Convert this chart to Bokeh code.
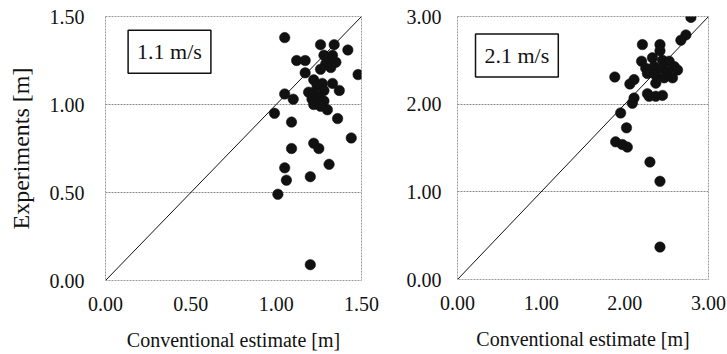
from bokeh.plotting import figure
from bokeh.layouts import row
from bokeh.models import Range1d, FixedTicker, CustomJSTickFormatter, Label
from bokeh.embed import file_html
from bokeh.resources import INLINE

# Panel 1: 1.1 m/s
x1 = [1.05, 1.26, 1.34, 1.42, 1.12, 1.17, 1.28, 1.33, 1.35, 1.29, 1.31, 1.26, 1.32,
      1.17, 1.48, 1.22, 1.27, 1.33, 1.24, 1.37, 1.19, 1.05, 1.10, 1.22, 1.28, 1.21,
      1.25, 1.28, 1.22, 1.26, 1.30, 0.99, 1.09, 1.36, 1.44, 1.22, 1.25, 1.09, 1.31,
      1.05, 1.20, 1.06, 1.01, 1.20]
y1 = [1.38, 1.34, 1.34, 1.31, 1.25, 1.25, 1.28, 1.28, 1.24, 1.23, 1.26, 1.20, 1.21,
      1.18, 1.17, 1.14, 1.12, 1.12, 1.11, 1.08, 1.07, 1.06, 1.03, 1.07, 1.08, 1.03,
      1.04, 1.02, 1.00, 0.99, 0.97, 0.95, 0.90, 0.92, 0.81, 0.78, 0.75, 0.75, 0.66,
      0.64, 0.59, 0.57, 0.49, 0.09]

# Panel 2: 2.1 m/s
x2 = [2.79, 2.73, 2.67, 2.21, 2.42, 2.42, 2.33, 2.20, 2.45, 2.53, 2.59, 2.63, 2.25,
      2.35, 2.45, 2.27, 2.37, 2.51, 2.47, 2.37, 2.57, 1.88, 2.11, 2.06, 2.27, 2.29,
      2.37, 2.45, 2.11, 2.09, 1.95, 2.02, 1.89, 1.97, 2.03, 2.30, 2.42, 2.42]
y2 = [2.99, 2.79, 2.73, 2.68, 2.68, 2.61, 2.53, 2.49, 2.50, 2.49, 2.43, 2.39, 2.41,
      2.43, 2.41, 2.35, 2.33, 2.37, 2.30, 2.24, 2.30, 2.31, 2.28, 2.23, 2.12, 2.09,
      2.09, 2.10, 2.07, 2.01, 1.90, 1.73, 1.57, 1.54, 1.51, 1.34, 1.12, 0.37]

ticks1 = [0.0, 0.5, 1.0, 1.5]
ticks2 = [0.0, 1.0, 2.0, 3.0]
labels = ["1.1 m/s", "2.1 m/s"]
xlabel = "Conventional estimate [m]"
ylabel = "Experiments [m]"

FONT = "Liberation Serif"
fmt = CustomJSTickFormatter(code="return tick.toFixed(2);")


def make_panel(xs, ys, ticks, label, lab_x, lab_y, with_ylabel,
               border_left, frame_w, border_right, border_top, frame_h, border_bottom,
               ystandoff):
    vmax = ticks[-1]
    p = figure(output_backend="svg", toolbar_location=None,
               frame_width=frame_w, frame_height=frame_h,
               min_border_left=border_left, min_border_right=border_right,
               min_border_top=border_top, min_border_bottom=border_bottom,
               x_range=Range1d(0, vmax), y_range=Range1d(0, vmax),
               background_fill_color="white", border_fill_color="white")
    p.outline_line_color = "#9a9a9a"
    p.outline_line_dash = "2 1"
    p.outline_line_width = 1
    p.xgrid.visible = False
    p.ygrid.ticker = FixedTicker(ticks=ticks)
    p.ygrid.grid_line_color = "#8c8c8c"
    p.ygrid.grid_line_dash = "2 1"
    p.ygrid.grid_line_width = 1
    for ax in (p.xaxis[0], p.yaxis[0]):
        ax.ticker = FixedTicker(ticks=ticks)
        ax.formatter = fmt
        ax.axis_line_color = None
        ax.major_tick_line_color = None
        ax.minor_tick_line_color = None
        ax.major_label_text_font = FONT
        ax.major_label_text_font_size = "20px"
        ax.major_label_text_color = "#111111"
        ax.axis_label_text_font = FONT
        ax.axis_label_text_font_style = "normal"
        ax.axis_label_text_color = "#111111"
    p.xaxis.major_label_standoff = 10
    p.yaxis.major_label_standoff = ystandoff
    p.xaxis.axis_label = xlabel
    p.xaxis.axis_label_text_font_size = "20px"
    p.xaxis.axis_label_standoff = 15
    if with_ylabel:
        p.yaxis.axis_label = ylabel
        p.yaxis.axis_label_text_font_size = "24px"
        p.yaxis.axis_label_standoff = 13

    p.line([0, vmax], [0, vmax], line_color="#111111", line_width=1)
    p.scatter(xs, ys, size=10.5, fill_color="#111111", line_color="#111111",
              line_width=0.5)
    p.add_layout(Label(x=lab_x, y=lab_y, text=label, text_align="center",
                       text_baseline="middle", text_font=FONT,
                       text_font_size="22px", text_color="#111111",
                       background_fill_color="white",
                       border_line_color="#111111", border_line_width=1.5,
                       padding=9))
    return p


p1 = make_panel(x1, y1, ticks1, labels[0], 0.375, 1.30, True,
                105, 256, 29, 16, 264, 66, 15)
p2 = make_panel(x2, y2, ticks2, labels[1], 0.71, 2.555, False,
                67, 251, 19, 15, 263, 68, 10)

layout = row(p1, p2)
open("out.html", "w").write(file_html(layout, INLINE))
